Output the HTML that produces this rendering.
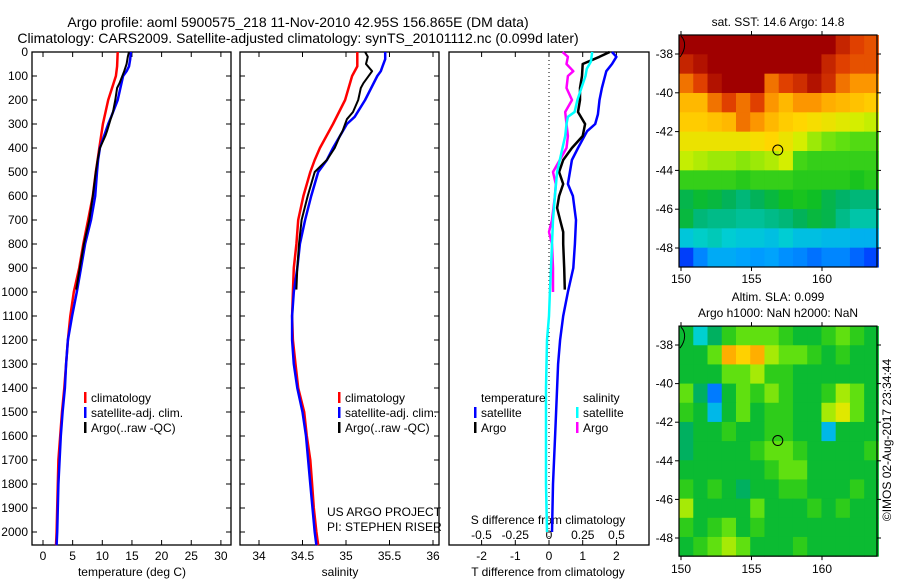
<!DOCTYPE html>
<html><head><meta charset="utf-8"><style>
body{margin:0;background:#fff;}
svg{display:block;font-family:"Liberation Sans",sans-serif;}
text{fill:#000;}
</style></head><body>
<svg id="c" width="900" height="580" viewBox="0 0 900 580">
<g id="texts" font-size="12">
<text x="298" y="27" font-size="14" text-anchor="middle">Argo profile: aoml 5900575_218 11-Nov-2010 42.95S 156.865E (DM data)</text>
<text x="298" y="43" font-size="14" text-anchor="middle">Climatology: CARS2009. Satellite-adjusted climatology: synTS_20101112.nc (0.099d later)</text>
<text x="132" y="576" text-anchor="middle">temperature (deg C)</text>
<text x="340" y="576" text-anchor="middle">salinity</text>
<text x="548" y="576" text-anchor="middle">T difference from climatology</text>
<text x="548" y="524" text-anchor="middle">S difference from climatology</text>
<text x="327" y="516">US ARGO PROJECT</text>
<text x="327" y="531">PI: STEPHEN RISER</text>
<text x="778" y="26" text-anchor="middle">sat. SST: 14.6 Argo: 14.8</text>
<text x="778" y="301" text-anchor="middle">Altim. SLA: 0.099</text>
<text x="778" y="317" text-anchor="middle">Argo h1000: NaN h2000: NaN</text>
<text x="0" y="0" transform="translate(891,440) rotate(-90)" text-anchor="middle">©IMOS 02-Aug-2017 23:34:44</text>
</g>
</svg>
<script>
// ---- data ----
const depthTicks=[0,100,200,300,400,500,600,700,800,900,1000,1100,1200,1300,1400,1500,1600,1700,1800,1900,2000];
const tempTicks=[0,5,10,15,20,25,30];
const salTicks=[34,34.5,35,35.5,36];
const tdiffTicks=[-2,-1,0,1,2];
const sdiffTicks=[-0.5,-0.25,0,0.25,0.5];
const climDepth=[0,60,100,200,300,400,450,500,600,700,800,900,1000,1100,1200,1300,1400,1500,1600,1700,1800,1900,2000,2055];
const climTemp=[12.6,12.5,12.3,11.0,10.1,9.5,9.2,8.9,8.4,7.6,6.8,6.1,5.2,4.6,4.2,3.9,3.6,3.2,2.9,2.6,2.5,2.4,2.3,2.2];
const climSal=[35.13,35.13,35.07,34.99,34.85,34.70,34.64,34.59,34.51,34.45,34.43,34.40,34.39,34.38,34.39,34.42,34.45,34.52,34.55,34.59,34.61,34.63,34.66,34.68];
const satDepth=[0,30,60,80,100,200,270,300,400,450,500,600,700,800,900,1000,1100,1200,1300,1400,1500,1600,1800,2000,2055];
const satTemp=[14.8,14.7,14.5,14.1,13.5,12.6,11.5,11.0,9.6,9.3,9.1,8.8,8.1,7.1,6.4,5.7,4.9,4.2,3.9,3.7,3.3,3.0,2.6,2.4,2.3];
const satSal=[35.45,35.45,35.42,35.40,35.36,35.22,35.10,35.01,34.85,34.78,34.68,34.60,34.53,34.47,34.44,34.40,34.38,34.38,34.40,34.44,34.50,34.54,34.59,34.64,34.66];
const argoDepth=[0,20,50,80,130,150,200,250,280,330,350,400,450,500,600,700,800,900,990];
const argoTemp=[14.5,14.3,14.1,13.7,12.9,12.5,12.2,11.8,11.4,10.8,10.5,9.6,9.2,8.9,8.4,7.8,6.9,6.2,5.6];
const argoSal=[35.22,35.25,35.23,35.30,35.20,35.17,35.14,35.08,35.01,34.96,34.93,34.87,34.78,34.64,34.56,34.49,34.46,34.44,34.43];
const tdSatDepth=[0,20,50,80,150,200,260,300,330,400,450,500,550,600,700,800,900,1000,1100,1200,1300,1400,1600,1800,2000];
const tdSat=[1.87,2.0,1.87,1.7,1.57,1.5,1.45,1.37,1.13,0.86,0.68,0.62,0.56,0.71,0.8,0.77,0.72,0.56,0.42,0.33,0.27,0.24,0.18,0.12,0.09];
const tdArgoDepth=[0,20,50,100,150,200,250,300,350,400,450,500,550,600,650,700,750,800,900,990];
const tdArgo=[1.8,1.5,1.0,0.98,0.92,0.92,0.86,1.07,1.0,0.68,0.42,0.3,0.42,0.3,0.24,0.33,0.42,0.42,0.45,0.47];
const sdSatDepth=[0,40,70,100,150,200,250,270,300,350,400,500,600,700,800,900,1000,1100,1200,1400,1600,1800,2000];
const sdSat=[0.32,0.31,0.28,0.27,0.24,0.21,0.19,0.14,0.13,0.12,0.10,0.06,0.044,0.03,0.022,0.015,0.007,0,-0.015,-0.022,-0.022,-0.022,-0.015];
const sdArgoDepth=[0,20,50,80,100,150,200,250,300,350,400,450,500,550,600,700,750,800,900,1000];
const sdArgo=[0.10,0.14,0.13,0.18,0.14,0.13,0.17,0.12,0.13,0.14,0.13,0.08,0.03,0.05,0.044,0.022,0,0.022,0.03,0.03];
const mapLonTicks=[150,155,160];
const mapLatTicks=[-38,-40,-42,-44,-46,-48];
const sstGrid=[
[17,17,17,17,17,17,17,17,17,17,17,16.6,16.3,16.2],
[16.6,16.8,17,17,17,17,17,17,17,17,16.6,16.3,16.2,16.2],
[16,16.3,16.8,17,17,17,16,16.3,16.5,16.8,16.5,16,15.8,15.8],
[15.5,15.5,16,16.3,16,16.3,15.8,15.5,15.8,15.8,15.6,15.5,15.4,15.3],
[15.3,15.3,15.4,15.5,16,15.8,15.5,15.3,15.2,15.1,15,14.9,14.8,14.7],
[15,15,15,15,15,15.1,15.2,15,14.8,14.5,14.3,14.2,14.1,14.1],
[14.7,14.6,14.5,14.5,14.4,14.5,14.6,14.8,14,13.9,13.9,13.9,13.9,13.9],
[13.9,13.9,13.9,13.9,13.8,13.9,13.9,13.9,13.8,13.8,13.8,13.8,13.7,13.8],
[13.3,13.5,13.4,13.2,13.0,13.2,13.4,13.6,13.7,13.6,13.3,13.1,13.0,13.0],
[13.4,13.0,12.9,12.9,12.8,12.8,12.9,13,13.2,13.4,13.3,12.9,12.7,12.7],
[12.3,12.5,12.6,12.4,12.3,12.3,12.2,12.4,12.2,12.2,12.1,12.1,12.0,12.0],
[10.8,11.5,11.9,11.9,11.8,11.7,11.8,11.6,11.5,11.3,11.5,11.5,11.2,10.9]];
const slaGrid=[
[0,-0.15,-0.05,0.05,0.1,0.1,0.1,0.05,0,0,0.05,0.1,0.05,0],
[0,0,0.1,0.3,0.25,0.3,0.15,0.1,0.1,0.05,0,0.05,0,0],
[0,0,0,0.1,0.1,0.15,0.05,0.05,0,0,0,0,0,0],
[0.1,-0.05,-0.3,0,0.1,0.05,0.12,0.05,0,0,0.05,0.15,0.1,0],
[0.05,0,-0.2,0,0.1,0,0.05,0.05,0,0,0.15,0.2,0.1,0],
[-0.05,0,0,0.05,0,0,0.05,0.05,0,0,-0.2,0,0,0],
[-0.05,0,0,0,0,0.05,0.1,0.1,0.05,0,0,0,0,0.05],
[0,0,0,0,0,0,0.05,0.1,0.1,0,0,0,0,0],
[0.05,0,0.05,0,-0.05,0,0,0.05,0.05,0,0,0,0.05,0],
[0.15,0,0,0,0,0.1,0,0,0,0.05,0,0.05,0,0],
[0.05,0,0.05,0.1,0,0.05,0,0,0,0,0,0,0,0],
[0,0.05,0.1,0.15,0.1,0,0,0,0.05,0,0,0,0,0]];
const argoLon=156.865, argoLat=-42.95;

// ---- helpers ----
const NS='http://www.w3.org/2000/svg';
const svg=document.getElementById('c');
function mk(tag,attrs,parent){const e=document.createElementNS(NS,tag);for(const k in attrs)e.setAttribute(k,attrs[k]);(parent||svg).appendChild(e);return e;}
const yD=d=>52+d*0.24;
const xT=t=>43+t*5.93;
const xS=s=>346+(s-35)*87;
const xTD=v=>549+v*33.7;
const xSD=v=>549+v*135;
const P1={l:32,r:231},P2={l:240,r:439},P3={l:449,r:649},TOP=52,BOT=545;

function panel(p,name){
  const r=mk('rect',{x:p.l,y:TOP,width:p.r-p.l,height:BOT-TOP,fill:'none',stroke:'#000','stroke-width':1.3});
  
  
}
panel(P1,'temperature-panel');panel(P2,'salinity-panel');panel(P3,'difference-panel');

function depthTicksFor(p,labels){
  depthTicks.forEach(d=>{
    const y=yD(d);
    const t1=mk('line',{x1:p.l,x2:p.l+5,y1:y,y2:y,stroke:'#000'});
    
    
    const t2=mk('line',{x1:p.r-5,x2:p.r,y1:y,y2:y,stroke:'#000'});
    
    
    if(labels){
      const tx=mk('text',{x:p.l-4,y:y+4,'font-size':12,'text-anchor':'end'});
      tx.textContent=d;
      
      
    }
  });
}
depthTicksFor(P1,true);depthTicksFor(P2,false);

function xTicks(vals,fx,y,name,topTicks){
  vals.forEach(v=>{
    const x=fx(v);
    if(topTicks){
      const a=mk('line',{x1:x,x2:x,y1:TOP,y2:TOP+5,stroke:'#000'});
      
      
      const b=mk('line',{x1:x,x2:x,y1:BOT-5,y2:BOT,stroke:'#000'});
      
      
    }
    const t=mk('text',{x:x,y:y,'font-size':12,'text-anchor':'middle'});
    t.textContent=String(v).replace('-','\u2212').replace('\u22120.','\u22120.');
    if(v<0) t.textContent='-'+String(-v);
    
    
  });
}
xTicks(tempTicks,xT,560,'temperature',true);
xTicks(salTicks,xS,560,'salinity',true);
xTicks(tdiffTicks,xTD,560,'t-diff',true);
xTicks(sdiffTicks,xSD,539,'s-diff',false);

// zero line
const z=mk('line',{x1:549,x2:549,y1:TOP,y2:BOT,stroke:'#000','stroke-dasharray':'1,3'});



function profile(depths,vals,fx,color,w,name){
  let d='';
  depths.forEach((dp,i)=>{d+=(i?'L':'M')+fx(vals[i]).toFixed(1)+','+yD(dp).toFixed(1);});
  const p=mk('path',{d:d,fill:'none',stroke:color,'stroke-width':w,'stroke-linejoin':'round'});
  
  
}
profile(climDepth,climTemp,xT,'#f00',2.5,'temp-climatology-line');
profile(satDepth,satTemp,xT,'#00f',2.5,'temp-satellite-line');
profile(argoDepth,argoTemp,xT,'#000',2,'temp-argo-line');
profile(climDepth,climSal,xS,'#f00',2.5,'sal-climatology-line');
profile(satDepth,satSal,xS,'#00f',2.5,'sal-satellite-line');
profile(argoDepth,argoSal,xS,'#000',2,'sal-argo-line');
profile(tdSatDepth,tdSat,xTD,'#00f',2.5,'tdiff-satellite-line');
profile(tdArgoDepth,tdArgo,xTD,'#000',2.5,'tdiff-argo-line');
profile(sdArgoDepth,sdArgo,xSD,'#f0f',2.5,'sdiff-argo-line');
profile(sdSatDepth,sdSat,xSD,'#0ff',2.5,'sdiff-satellite-line');

function legendItem(x,y,color,label,name){
  const b=mk('rect',{x:x,y:y-10,width:2.5,height:11,fill:color});
  
  
  const t=mk('text',{x:x+7,y:y,'font-size':12});
  t.textContent=label;
  
  
}
legendItem(84,402,'#f00','climatology','legend-t-clim');
legendItem(84,417,'#00f','satellite-adj. clim.','legend-t-sat');
legendItem(84,432,'#000','Argo(..raw -QC)','legend-t-argo');
legendItem(338,402,'#f00','climatology','legend-s-clim');
legendItem(338,417,'#00f','satellite-adj. clim.','legend-s-sat');
legendItem(338,432,'#000','Argo(..raw -QC)','legend-s-argo');
legendItem(474,417,'#00f','satellite','legend-td-sat');
legendItem(474,432,'#000','Argo','legend-td-argo');
legendItem(576,417,'#0ff','satellite','legend-sd-sat');
legendItem(576,432,'#f0f','Argo','legend-sd-argo');
(function(){
  const a=mk('text',{x:481,y:402,'font-size':12});a.textContent='temperature';
  
  
  const b=mk('text',{x:583,y:402,'font-size':12});b.textContent='salinity';
  
  
})();

// ---- maps ----
const stops=[[0,[0,16,154]],[0.12,[0,64,255]],[0.25,[0,160,255]],[0.35,[0,208,208]],[0.45,[0,176,96]],[0.52,[16,192,32]],[0.6,[96,224,16]],[0.68,[208,240,0]],[0.74,[255,216,0]],[0.82,[255,160,0]],[0.9,[224,64,0]],[1,[160,0,0]]];
function cmap(t){
  t=Math.max(0,Math.min(1,t));
  for(let i=1;i<stops.length;i++){if(t<=stops[i][0]){const a=stops[i-1],b=stops[i];const f=(t-a[0])/(b[0]-a[0]);const c=a[1].map((v,k)=>Math.round(v+(b[1][k]-v)*f));return 'rgb('+c.join(',')+')';}}
  return 'rgb(160,0,0)';
}
function drawMap(m,grid,norm,name){
  const lonX=lon=>681+(lon-150)*14.1;
  const latY=lat=>m.y38+(-38-lat)*m.sc;
  const lon0=149.86,lon1=164.0,lat0=-37.02,lat1=m.latBot;
  const nr=grid.length,nc=grid[0].length;
  const dl=(lon1-lon0)/nc,dt=(lat0-lat1)/nr;
  const g=mk('g',{});
  
  
  grid.forEach((row,i)=>row.forEach((v,j)=>{
    const x0=lonX(lon0+j*dl),x1=lonX(lon0+(j+1)*dl);
    const y0=latY(lat0-i*dt),y1=latY(lat0-(i+1)*dt);
    const r=mk('rect',{x:x0.toFixed(2),y:y0.toFixed(2),width:(x1-x0+0.5).toFixed(2),height:(y1-y0+0.5).toFixed(2),fill:cmap(norm(v))},g);
    
    
  }));
  const top=latY(lat0),bot=latY(lat1);
  const fr=mk('rect',{x:679,y:top,width:198,height:bot-top,fill:'none',stroke:'#000','stroke-width':1.2});
  
  
  const coast=mk('path',{d:`M681,${top+1} C686,${top+6} 686,${top+14} 680,${top+22}`,fill:'none',stroke:'#000','stroke-width':1});
  
  
  mapLonTicks.forEach(lon=>{
    const x=lonX(lon);
    const a=mk('line',{x1:x,x2:x,y1:top-4,y2:top,stroke:'#000'});
    
    
    const b=mk('line',{x1:x,x2:x,y1:bot,y2:bot+4,stroke:'#000'});
    
    
    const t=mk('text',{x:x,y:m.lonLabelY,'font-size':12,'text-anchor':'middle'});t.textContent=lon;
    
    
  });
  mapLatTicks.forEach(lat=>{
    const y=latY(lat);
    const a=mk('line',{x1:675,x2:679,y1:y,y2:y,stroke:'#000'});
    
    
    const b=mk('line',{x1:877,x2:881,y1:y,y2:y,stroke:'#000'});
    
    
    const t=mk('text',{x:673,y:y+4,'font-size':12,'text-anchor':'end'});t.textContent='-'+(-lat);
    
    
  });
  const c=mk('circle',{cx:lonX(argoLon),cy:latY(argoLat),r:5,fill:'none',stroke:'#000','stroke-width':1});
  
  
}
drawMap({y38:54,sc:19.4,latBot:-48.98,lonLabelY:283},sstGrid,v=>(v-10)/7,'sst-map');
drawMap({y38:345,sc:19.3,latBot:-48.94,lonLabelY:573},slaGrid,v=>(v+0.5)/1.0,'sla-map');
</script>
</body></html>
